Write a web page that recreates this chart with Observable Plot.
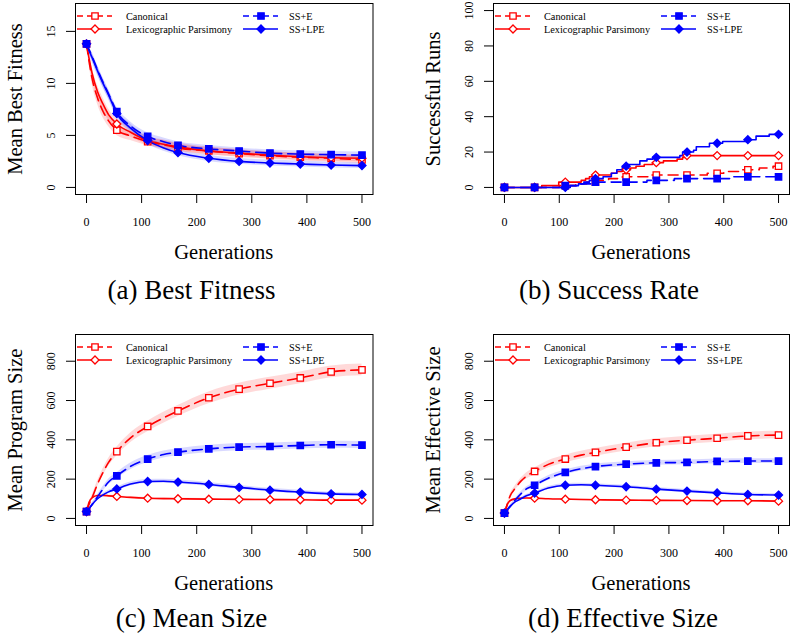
<!DOCTYPE html>
<html><head><meta charset="utf-8">
<script src="https://cdn.jsdelivr.net/npm/d3@7"></script>
<script src="https://cdn.jsdelivr.net/npm/@observablehq/plot@0.6"></script>
<style>
body{margin:0;background:#fff;}
#root{position:relative;width:790px;height:636px;overflow:hidden;font-family:"Liberation Serif",serif;color:#000;}
.panel{position:absolute;}
.ylab{position:absolute;font-size:20.5px;line-height:1;transform:translate(-50%,-50%) rotate(-90deg);white-space:nowrap;}
.xlab{position:absolute;font-size:20.5px;line-height:1;transform:translate(-50%,-50%);white-space:nowrap;}
.cap{position:absolute;font-size:27px;line-height:1;transform:translate(-50%,-50%);white-space:nowrap;}
</style></head><body><div id="root"></div>
<script>
// ---------- data ----------
const seriesNames = ["Canonical","Lexicographic Parsimony","SS+E","SS+LPE"];
const gens = [0,5,10,20,30,40,55,80,111,140,166,222,277,333,388,444,500];
const markerGens = [0,55,111,166,222,277,333,388,444,500];
const xTicks = [0,100,200,300,400,500];

// (a) Mean best fitness
const fitCanonical = [13.8,12.0,10.5,8.6,7.3,6.4,5.5,4.95,4.4,4.1,3.8,3.5,3.25,3.05,2.9,2.8,2.65];
const fitLexi      = [13.8,12.3,11.0,9.2,8.0,7.0,6.1,5.3,4.5,4.15,3.9,3.5,3.3,3.1,2.95,2.85,2.8];
const fitSSE       = [13.8,13.2,12.6,11.3,10.1,9.0,7.3,5.9,4.9,4.4,4.05,3.7,3.5,3.3,3.2,3.15,3.1];
const fitSSLPE     = [13.8,13.1,12.5,11.2,10.0,8.9,7.1,5.7,4.5,3.8,3.35,2.8,2.5,2.35,2.25,2.15,2.1];
const fitCanonicalCI = [0,0.3,0.5,0.6,0.6,0.55,0.5,0.45,0.4,0.4,0.35,0.35,0.35,0.35,0.35,0.35,0.35];
const fitLexiCI      = [0,0.3,0.5,0.6,0.6,0.55,0.5,0.45,0.4,0.4,0.38,0.35,0.35,0.33,0.33,0.33,0.33];
const fitSSECI       = [0,0.3,0.4,0.45,0.45,0.45,0.4,0.4,0.35,0.35,0.35,0.33,0.3,0.3,0.3,0.3,0.3];
const fitSSLPECI     = [0,0.3,0.4,0.45,0.45,0.45,0.4,0.4,0.35,0.33,0.3,0.3,0.28,0.28,0.28,0.28,0.28];
const fitTicks = [0,5,10,15];

// (b) Successful runs (step changes)
const succCanonicalGen = [0,100,130,150,170,190,215,262,370,400,430,465,490,500];
const succCanonicalVal = [0,1,2,3,4,5,6,7,8,9,10,11,12,12];
const succLexiGen = [0,68,99,140,148,155,162,195,205,215,230,240,255,270,290,315,325,333,500];
const succLexiVal = [0,1,3,4,5,6,7,8,9,10,11,12,13,14,15,16,17,18,18];
const succSSEGen = [0,105,140,160,260,310,415,500];
const succSSEVal = [0,1,2,3,4,5,6,6];
const succSSLPEGen = [0,120,135,145,155,165,180,195,205,215,225,247,260,271,320,325,345,350,374,398,440,459,483,500];
const succSSLPEVal = [0,1,2,3,4,5,6,8,10,12,13,15,16,17,18,20,21,23,25,26,27,29,30,30];
const succTicks = [0,20,40,60,80,100];

// (c) Mean program size
const sizeCanonical = [35,75,105,175,235,285,340,410,468,512,547,614,658,688,715,746,756];
const sizeLexi      = [35,85,105,117,117,115,112,107,103,101,100,98,97,96,95,93,93];
const sizeSSE       = [35,52,70,110,150,185,217,265,302,325,337,354,363,366,371,375,373];
const sizeSSLPE     = [35,52,70,100,120,135,150,175,188,189,185,173,158,144,134,125,122];
const sizeCanonicalCI = [0,5,10,15,18,20,22,25,27,28,28,30,30,30,30,30,30];
const sizeLexiCI      = [0,2,3,4,4,4,4,4,4,4,4,4,4,4,4,4,4];
const sizeSSECI       = [0,4,7,10,12,14,15,17,18,18,18,18,18,18,18,18,18];
const sizeSSLPECI     = [0,3,5,6,7,8,9,10,10,10,10,10,10,9,9,8,8];
const sizeTicks = [0,200,400,600,800];

// (d) Mean effective size
const effCanonical = [27,70,112,155,190,215,239,275,302,322,336,363,385,398,408,420,424];
const effLexi      = [27,70,90,100,103,104,103,100,98,96,95,93,92,91,90,90,88];
const effSSE       = [27,44,60,95,125,150,169,205,234,253,264,276,283,285,290,292,292];
const effSSLPE     = [27,44,60,85,100,115,129,155,169,171,169,161,149,139,130,122,119];
const effCanonicalCI = [0,4,8,12,14,16,18,19,20,20,20,20,20,20,20,20,20];
const effLexiCI      = [0,2,3,3,3,3,3,3,3,3,3,3,3,3,3,3,3];
const effSSECI       = [0,3,6,8,9,10,11,12,12,12,12,12,12,12,12,12,12];
const effSSLPECI     = [0,2,4,5,6,7,7,8,8,8,8,8,8,8,7,7,7];

// ---------- styles ----------
const seriesStyle = {
  "Canonical":               {color:"#FF0000", dash:"10,6", symbol:"square",   filled:false},
  "Lexicographic Parsimony": {color:"#FF0000", dash:null,  symbol:"diamond2", filled:false},
  "SS+E":                    {color:"#0000FF", dash:"10,6", symbol:"square",   filled:true},
  "SS+LPE":                  {color:"#0000FF", dash:null,  symbol:"diamond2", filled:true}
};
const R_DOT = 3.6, STROKE = 1.6;

const panels = [
  {left:0, top:0, ml:75, mr:22.5, mt:3, mb:46, yDomain:[-0.68,17.68], yTicks:fitTicks, kind:"smooth",
   ylabel:"Mean Best Fitness", caption:"(a) Best Fitness", capX:191.5, capY:290, labY:252,
   values:[fitCanonical,fitLexi,fitSSE,fitSSLPE], ci:[fitCanonicalCI,fitLexiCI,fitSSECI,fitSSLPECI]},
  {left:395, top:0, ml:98, mr:1, mt:3, mb:46, yDomain:[-4,104], yTicks:succTicks, kind:"step",
   ylabel:"Successful Runs", caption:"(b) Success Rate", capX:609, capY:290, labY:252,
   stepGen:[succCanonicalGen,succLexiGen,succSSEGen,succSSLPEGen], stepVal:[succCanonicalVal,succLexiVal,succSSEVal,succSSLPEVal]},
  {left:0, top:330, ml:75, mr:22.5, mt:4, mb:45, yDomain:[-36,936], yTicks:sizeTicks, kind:"smooth",
   ylabel:"Mean Program Size", caption:"(c) Mean Size", capX:191.5, capY:618, labY:583,
   values:[sizeCanonical,sizeLexi,sizeSSE,sizeSSLPE], ci:[sizeCanonicalCI,sizeLexiCI,sizeSSECI,sizeSSLPECI]},
  {left:395, top:330, ml:98, mr:1, mt:4, mb:45, yDomain:[-36,936], yTicks:sizeTicks, kind:"smooth",
   ylabel:"Mean Effective Size", caption:"(d) Effective Size", capX:623, capY:618, labY:583,
   values:[effCanonical,effLexi,effSSE,effSSLPE], ci:[effCanonicalCI,effLexiCI,effSSECI,effSSLPECI]}
];

const root = document.getElementById("root");
function addText(cls, txt, x, y){
  const d = document.createElement("div");
  d.className = cls; d.textContent = txt;
  d.style.left = x + "px"; d.style.top = y + "px";
  root.appendChild(d);
}

function stepAt(gs, vs, g){ let v = vs[0]; for (let i=0;i<gs.length;i++){ if (gs[i] <= g) v = vs[i]; } return v; }

function buildPanel(p){
  const W = 395, H = 240;
  const bands = [], lines = [], dots = [];
  seriesNames.forEach((name, k) => {
    const st = seriesStyle[name];
    let rows, mrows, curve;
    if (p.kind === "smooth"){
      rows = gens.map((g,i) => ({g, v:p.values[k][i], ci:p.ci[k][i]}));
      mrows = rows.filter(d => markerGens.includes(d.g));
      curve = "monotone-x";
      bands.push(Plot.areaY(rows, {x:"g", y1:d=>d.v-d.ci, y2:d=>d.v+d.ci, fill:st.color, fillOpacity:0.15, curve}));
    } else {
      rows = p.stepGen[k].map((g,i) => ({g, v:p.stepVal[k][i]}));
      mrows = markerGens.map(g => ({g, v:stepAt(p.stepGen[k], p.stepVal[k], g)}));
      curve = "step-after";
    }
    lines.push(Plot.line(rows, {x:"g", y:"v", stroke:st.color, strokeWidth:STROKE, strokeDasharray:st.dash || undefined, curve}));
    dots.push(Plot.dot(mrows, {x:"g", y:"v", symbol:st.symbol, r:R_DOT, fill:st.filled ? st.color : "white", stroke:st.color, strokeWidth:1.3}));
  });
  const svg = Plot.plot({
    width:W, height:H, marginLeft:p.ml, marginRight:p.mr, marginTop:p.mt, marginBottom:p.mb,
    x:{domain:[-20,520]}, y:{domain:p.yDomain},
    style:{fontFamily:"Liberation Serif", fontSize:"12px", background:"transparent", overflow:"visible", color:"#000"},
    marks:[
      ...bands, ...lines, ...dots,
      Plot.frame({stroke:"#000", strokeWidth:1}),
      Plot.axisX({ticks:xTicks, tickSize:9, tickPadding:14, label:null, fontSize:12}),
      Plot.axisY({ticks:p.yTicks, tickSize:9, tickPadding:12, tickRotate:-90, label:null, fontSize:12})
    ]
  });
  // legend
  const g = d3.select(svg).append("g").attr("transform", `translate(${p.ml},${p.mt})`);
  const cols = [{x0:2, x1:37, xm:20, xt:51}, {x0:168, x1:203, xm:186, xt:214}];
  const rowsY = [13, 26];
  seriesNames.forEach((name, k) => {
    const st = seriesStyle[name];
    const c = cols[Math.floor(k/2)], yy = rowsY[k%2];
    g.append("line").attr("x1",c.x0).attr("x2",c.x1).attr("y1",yy).attr("y2",yy)
      .attr("stroke",st.color).attr("stroke-width",STROKE).attr("stroke-dasharray", st.dash ? "6,4" : null);
    const sym = st.symbol === "square" ? d3.symbolSquare : d3.symbolDiamond2;
    g.append("path").attr("d", d3.symbol(sym, Math.PI*R_DOT*R_DOT)()).attr("transform",`translate(${c.xm},${yy})`)
      .attr("fill", st.filled ? st.color : "white").attr("stroke", st.color).attr("stroke-width",1.3);
    g.append("text").attr("x",c.xt).attr("y",yy).attr("dy","0.35em").attr("font-size","10.3px")
      .attr("text-anchor","start")
      .attr("font-family","Liberation Serif").attr("fill","#000").text(name);
  });
  const wrap = document.createElement("div");
  wrap.className = "panel";
  wrap.style.left = p.left + "px"; wrap.style.top = p.top + "px";
  wrap.appendChild(svg);
  root.appendChild(wrap);
  const fx = p.left + p.ml + (W - p.ml - p.mr)/2;
  const fy = p.top + p.mt + (H - p.mt - p.mb)/2;
  addText("xlab", "Generations", fx, p.labY);
  addText("ylab", p.ylabel, p.left + (p.left ? 37.5 : 15), fy);
  addText("cap", p.caption, p.capX, p.capY);
}
panels.forEach(buildPanel);
</script></body></html>
